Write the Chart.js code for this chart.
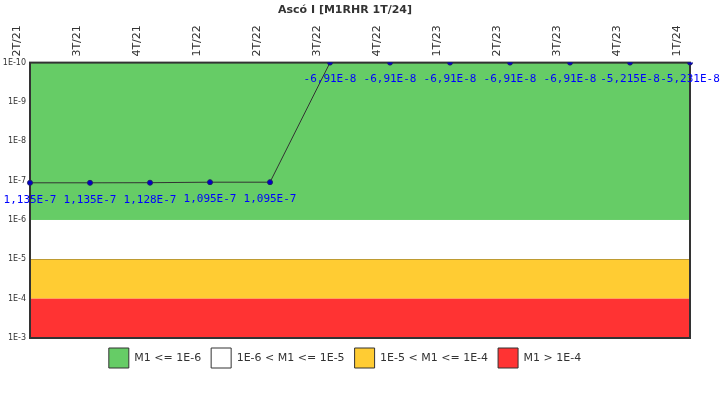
<!DOCTYPE html>
<html><head><meta charset="utf-8">
<script src="https://cdn.jsdelivr.net/npm/chart.js@4"></script>
<style>html,body{margin:0;padding:0;background:#fff}</style>
</head><body><canvas id="c" width="720" height="400" style="width:720px;height:400px"></canvas>
<script>
const categories = ["2T/21","3T/21","4T/21","1T/22","2T/22","3T/22","4T/22","1T/23","2T/23","3T/23","4T/23","1T/24"];
const seriesValues = [1.135e-7,1.135e-7,1.128e-7,1.095e-7,1.095e-7,-6.91e-8,-6.91e-8,-6.91e-8,-6.91e-8,-6.91e-8,-5.215e-8,-5.231e-8];
const valueLabels = ["1,135E-7","1,135E-7","1,128E-7","1,095E-7","1,095E-7","-6,91E-8","-6,91E-8","-6,91E-8","-6,91E-8","-6,91E-8","-5,215E-8","-5,231E-8"];
const bandFrom = [1e-10,1e-6,1e-5,1e-4];
const bandTo = [1e-6,1e-5,1e-4,1e-3];
const bandColors = ["#66cc66","#ffffff","#ffcc33","#ff3333"];
const bandNames = ["M1 <= 1E-6","1E-6 < M1 <= 1E-5","1E-5 < M1 <= 1E-4","M1 > 1E-4"];
const yMin = 1e-10, yMax = 1e-3;
const plotted = seriesValues.map(v => v > 0 ? v : yMin);

const bands = {id:'bands', beforeDatasetsDraw(ch){
  const {ctx, chartArea:a, scales:{y}} = ch;
  ctx.save();
  for(let i=0;i<bandFrom.length;i++){
    const y1=y.getPixelForValue(bandFrom[i]), y2=y.getPixelForValue(bandTo[i]);
    ctx.fillStyle=bandColors[i]; ctx.fillRect(a.left,Math.min(y1,y2),a.right-a.left,Math.abs(y2-y1));
    ctx.strokeStyle='#333'; ctx.lineWidth=1;
    ctx.beginPath(); ctx.moveTo(a.left,Math.round(y2)+0.5); ctx.lineTo(a.right,Math.round(y2)+0.5); ctx.stroke();
  }
  ctx.strokeStyle='#333'; ctx.lineWidth=2;
  ctx.strokeRect(a.left,a.top,a.right-a.left,a.bottom-a.top);
  ctx.restore();
}, afterDatasetsDraw(ch){
  const {ctx} = ch; const meta = ch.getDatasetMeta(0);
  ctx.save(); ctx.fillStyle='#0000ff'; ctx.font='11px "DejaVu Sans Mono"'; ctx.textAlign='center'; ctx.textBaseline='middle';
  meta.data.forEach((p,i)=>ctx.fillText(valueLabels[i],p.x,p.y+17));
  ctx.restore();
}};

new Chart(document.getElementById('c'),{
  type:'line',
  data:{labels:categories,datasets:[{data:plotted,borderColor:'#333',borderWidth:1,pointBackgroundColor:'#0000cc',pointBorderColor:'#222266',pointRadius:2.5,tension:0}]},
  options:{responsive:false,animation:false,devicePixelRatio:1,
    layout:{padding:{left:0,right:30,top:0,bottom:22}},
    plugins:{
      title:{display:true,text:'Ascó I [M1RHR 1T/24]',font:{family:'DejaVu Sans',size:11,weight:'bold'},color:'#333',padding:{top:4,bottom:6}},
      legend:{position:'bottom',labels:{boxWidth:20,boxHeight:20,padding:10,font:{family:'DejaVu Sans',size:11},color:'#333',
        generateLabels:()=>bandNames.map((n,i)=>({text:n,fillStyle:bandColors[i],strokeStyle:'#333',lineWidth:1,hidden:false,fontColor:'#333'}))}},
      tooltip:{enabled:false}},
    scales:{
      x:{position:'top',offset:false,grid:{display:false,drawTicks:true,tickLength:4,tickColor:'#333'},border:{display:false},
        ticks:{minRotation:90,maxRotation:90,font:{family:'DejaVu Sans',size:11},color:'#333',padding:2}},
      y:{type:'logarithmic',reverse:true,min:yMin,max:yMax,grid:{display:false,drawTicks:true,tickLength:3,tickColor:'#333'},border:{display:false},
        afterFit(s){s.width=30;},
        afterBuildTicks(s){s.ticks=[-10,-9,-8,-7,-6,-5,-4,-3].map(e=>({value:Math.pow(10,e)}));},
        ticks:{autoSkip:false,font:{family:'DejaVu Sans',size:8},color:'#333',padding:1,callback:(v)=>'1E'+Math.round(Math.log10(v))}}
    }},
  plugins:[bands]
});
</script></body></html>
